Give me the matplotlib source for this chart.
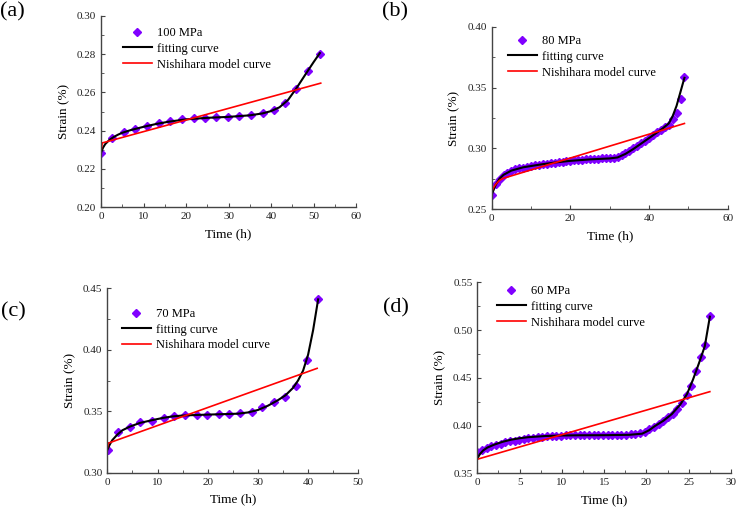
import matplotlib
matplotlib.use("Agg")
import matplotlib.pyplot as plt
from matplotlib.ticker import MultipleLocator, FormatStrFormatter

plt.rcParams['font.family'] = ['Liberation Serif', 'DejaVu Serif']

# ---- (a) 100 MPa ----
time_a = [0, 2.6, 5.4, 8.0, 10.8, 13.6, 16.3, 19.0, 21.8, 24.5, 27.1, 29.9,
          32.5, 35.2, 38.0, 40.7, 43.4, 45.9, 48.7, 51.5]
strain_a = [0.2285, 0.2363, 0.2392, 0.2407, 0.2422, 0.2440, 0.2450, 0.2461,
            0.2466, 0.2466, 0.2471, 0.2473, 0.2475, 0.2482, 0.2490, 0.2510,
            0.2543, 0.2620, 0.2712, 0.2802]
fit_t_a = [0, 0.5, 1, 2, 3, 4, 5, 7, 10, 13, 16, 20, 25, 30, 35, 38, 40, 42,
           44, 46, 48, 50, 51.5]
fit_a = [0.2285, 0.2312, 0.2330, 0.2352, 0.2367, 0.2379, 0.2389, 0.2403,
         0.2420, 0.2435, 0.2447, 0.2459, 0.2467, 0.2472, 0.2480, 0.2490,
         0.2502, 0.2522, 0.2560, 0.2622, 0.2690, 0.2757, 0.2805]
model_t_a = [0, 0.3, 51.7]
model_a = [0.2290, 0.2336, 0.2648]

# ---- (b) 80 MPa ----
time_b = list(range(50))
strain_b = [0.2620, 0.2705, 0.2750, 0.2780, 0.2800, 0.2815, 0.2827, 0.2836,
            0.2843, 0.2850, 0.2855, 0.2860, 0.2865, 0.2870, 0.2874, 0.2878,
            0.2882, 0.2886, 0.2890, 0.2893, 0.2900, 0.2903, 0.2906, 0.2908,
            0.2910, 0.2912, 0.2914, 0.2916, 0.2918, 0.2920, 0.2922, 0.2925,
            0.2932, 0.2945, 0.2962, 0.2980, 0.3000, 0.3020, 0.3042, 0.3065,
            0.3088, 0.3110, 0.3132, 0.3155, 0.3175, 0.3195, 0.3240, 0.3288,
            0.3403, 0.3584]
fit_t_b = [0, 1, 2, 3, 5, 8, 12, 16, 20, 25, 30, 32, 34, 36, 38, 40, 42,
           43.5, 45, 46, 47, 48, 49]
fit_b = [0.2620, 0.2700, 0.2752, 0.2783, 0.2818, 0.2845, 0.2866, 0.2884,
         0.2898, 0.2910, 0.2918, 0.2926, 0.2955, 0.2995, 0.3040, 0.3085,
         0.3130, 0.3165, 0.3205, 0.3265, 0.3350, 0.3465, 0.3580]
model_t_b = [0, 0.5, 1, 2, 3, 49]
model_b = [0.2645, 0.2680, 0.2705, 0.2738, 0.2755, 0.3205]

# ---- (c) 70 MPa ----
time_c = [0.2, 2.2, 4.5, 6.6, 9.0, 11.2, 13.3, 15.5, 17.8, 19.9, 22.2, 24.3,
          26.5, 28.8, 30.9, 33.2, 35.4, 37.6, 39.8, 42.0]
strain_c = [0.3185, 0.3328, 0.3374, 0.3409, 0.3423, 0.3448, 0.3464, 0.3472,
            0.3472, 0.3472, 0.3475, 0.3477, 0.3483, 0.3497, 0.3532, 0.3572,
            0.3619, 0.3705, 0.3917, 0.4410]
fit_t_c = [0, 0.5, 1, 2, 3, 4.5, 6.5, 9, 11, 13, 15, 18, 22, 26, 28, 30, 32,
           34, 35.5, 37, 38, 39, 40, 41, 42]
fit_c = [0.3185, 0.3230, 0.3265, 0.3310, 0.3345, 0.3375, 0.3405, 0.3428,
         0.3445, 0.3458, 0.3465, 0.3470, 0.3475, 0.3480, 0.3490, 0.3510,
         0.3545, 0.3590, 0.3630, 0.3690, 0.3750, 0.3830, 0.3960, 0.4160,
         0.4410]
model_t_c = [0, 0.2, 41.8]
model_c = [0.3200, 0.3240, 0.3849]

# ---- (d) 60 MPa ----
time_d = [0.00, 0.55, 1.10, 1.65, 2.20, 2.75, 3.30, 3.85, 4.40, 4.95, 5.50,
          6.05, 6.60, 7.15, 7.70, 8.25, 8.80, 9.35, 9.90, 10.45, 11.00,
          11.55, 12.10, 12.65, 13.20, 13.75, 14.30, 14.85, 15.40, 15.95,
          16.50, 17.05, 17.60, 18.15, 18.70, 19.25, 19.80, 20.35, 20.90,
          21.45, 22.00, 22.55, 23.10, 23.65, 24.20, 24.75, 25.30, 25.85,
          26.40, 26.95, 27.50]
strain_d = [0.3725, 0.3745, 0.3765, 0.3785, 0.3800, 0.3812, 0.3823, 0.3833,
            0.3843, 0.3852, 0.3860, 0.3866, 0.3872, 0.3877, 0.3882, 0.3886,
            0.3889, 0.3892, 0.3894, 0.3896, 0.3897, 0.3898, 0.3898, 0.3898,
            0.3898, 0.3898, 0.3898, 0.3898, 0.3898, 0.3899, 0.3900, 0.3902,
            0.3905, 0.3908, 0.3913, 0.3920, 0.3935, 0.3960, 0.3990, 0.4020,
            0.4050, 0.4085, 0.4125, 0.4175, 0.4240, 0.4320, 0.4410, 0.4570,
            0.4720, 0.4845, 0.5150]
fit_t_d = [0, 0.3, 0.7, 1.2, 2, 3, 4, 5, 6, 8, 10, 12, 15, 18, 19.5, 20.3,
           21, 22, 23, 24, 24.8, 25.5, 26.2, 26.9, 27.5]
fit_d = [0.3655, 0.3700, 0.3740, 0.3770, 0.3800, 0.3830, 0.3852, 0.3867,
         0.3878, 0.3890, 0.3896, 0.3898, 0.3899, 0.3903, 0.3915, 0.3950,
         0.3995, 0.4050, 0.4120, 0.4220, 0.4330, 0.4480, 0.4650, 0.4830,
         0.5140]
model_t_d = [0, 27.5]
model_d = [0.3647, 0.4355]

labels = ['(a)', '(b)', '(c)', '(d)']
loads = ['100 MPa', '80 MPa', '70 MPa', '60 MPa']

W, H = 737, 509


def px_axes(l, t, r, b):
    return [l / W, 1 - b / H, (r - l) / W, (b - t) / H]


def draw_panel(fig, rect, t, s, ft, fv, mt, mv, load, xlim, ylim, xmaj, ymaj,
               leg_xy, lab_xy, lab):
    ax = fig.add_axes(px_axes(*rect))
    ax.plot(t, s, linestyle='none', marker='D', ms=3.6, color='#8000ff',
            mec='#8000ff', label=load)
    ax.plot(ft, fv, color='black', lw=1.5, label='fitting curve')
    ax.plot(mt, mv, color='red', lw=1.2, label='Nishihara model curve')
    ax.set_xlim(*xlim)
    ax.set_ylim(*ylim)
    ax.xaxis.set_major_locator(MultipleLocator(xmaj))
    ax.xaxis.set_minor_locator(MultipleLocator(xmaj / 2))
    ax.yaxis.set_major_locator(MultipleLocator(ymaj))
    ax.yaxis.set_minor_locator(MultipleLocator(ymaj / 2))
    ax.yaxis.set_major_formatter(FormatStrFormatter('%.2f'))
    for side in ['top', 'right']:
        ax.spines[side].set_visible(False)
    for side in ['left', 'bottom']:
        ax.spines[side].set_color('#444444')
        ax.spines[side].set_linewidth(1.0)
    ax.tick_params(which='both', direction='in', colors='#444444',
                   labelcolor='#222222', labelsize=8)
    ax.tick_params(which='major', length=3)
    ax.tick_params(which='minor', length=2)
    ax.set_xlabel('Time (h)', fontsize=9.5, labelpad=5)
    ax.set_ylabel('Strain (%)', fontsize=9.5, labelpad=5)
    ax.legend(loc='upper left', bbox_to_anchor=(leg_xy[0] / W, 1 - leg_xy[1] / H),
              bbox_transform=fig.transFigure, frameon=False, fontsize=9,
              numpoints=1, handlelength=2.3, handletextpad=0.4,
              labelspacing=0.3, borderpad=0, borderaxespad=0)
    fig.text(lab_xy[0] / W, 1 - lab_xy[1] / H, lab, fontsize=16,
             ha='left', va='center')
    return ax


def main():
    fig = plt.figure(figsize=(7.37, 5.09), dpi=100)

    draw_panel(fig, (101, 15.7, 356, 207.3), time_a, strain_a, fit_t_a, fit_a,
               model_t_a, model_a, loads[0], (0, 60), (0.20, 0.30), 10, 0.02,
               (123, 27), (0, 12), labels[0])
    draw_panel(fig, (491.7, 26.7, 727.7, 209.3), time_b, strain_b, fit_t_b,
               fit_b, model_t_b, model_b, loads[1], (0, 60), (0.25, 0.40), 20,
               0.05, (508, 35), (382, 12), labels[1])
    draw_panel(fig, (107.3, 288.3, 358.3, 472.7), time_c, strain_c, fit_t_c,
               fit_c, model_t_c, model_c, loads[2], (0, 50), (0.30, 0.45), 10,
               0.05, (122, 308), (1, 312), labels[2])
    draw_panel(fig, (477.3, 282.3, 731, 473.3), time_d, strain_d, fit_t_d,
               fit_d, model_t_d, model_d, loads[3], (0, 30), (0.35, 0.55), 5,
               0.05, (497, 285), (383, 308), labels[3])

    fig.savefig('out.png', dpi=100)


if __name__ == "__main__":
    main()
